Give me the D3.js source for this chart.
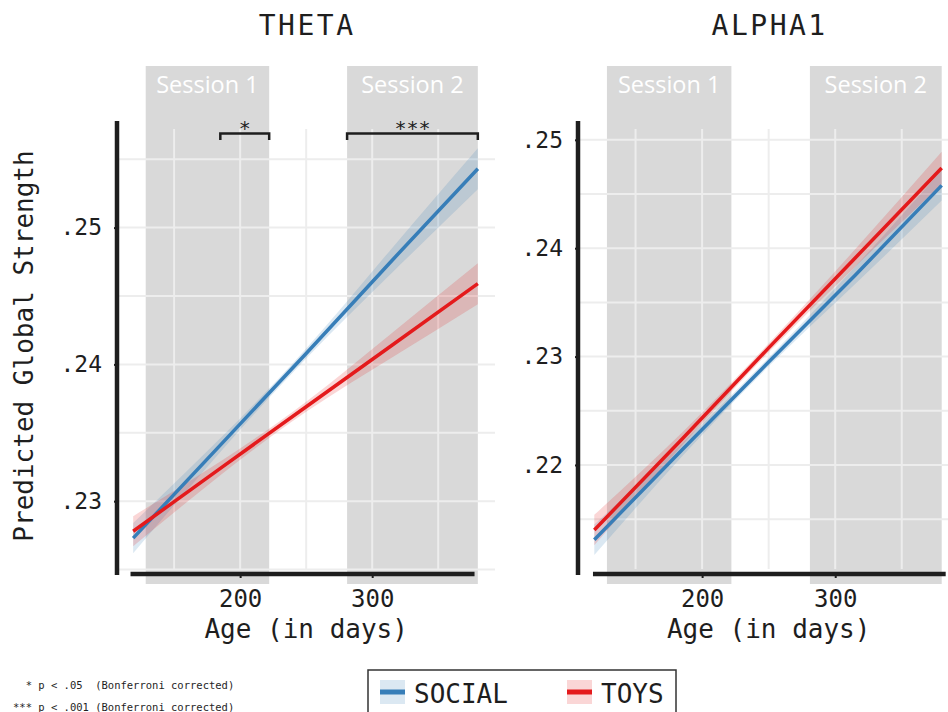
<!DOCTYPE html>
<html><head><meta charset="utf-8">
<script src="https://cdn.jsdelivr.net/npm/d3@7"></script>
<style>
html,body{margin:0;padding:0;background:#fff;}
svg{display:block;}
text{font-family:"DejaVu Sans Mono", monospace; fill:#1e1e1e;}
</style></head><body>
<svg id="chart" width="948" height="712"></svg>
<script>
// ---- data ----
const ageDays = [119, 185, 250, 315, 380];
const thetaSocial   = [0.2273, 0.2341, 0.2408, 0.2476, 0.2543];
const thetaSocialCI = [0.0011, 0.0005, 0.00037, 0.0009, 0.0015];
const thetaToys     = [0.2278, 0.2324, 0.2369, 0.2414, 0.2459];
const thetaToysCI   = [0.0011, 0.0005, 0.00037, 0.0009, 0.0015];
const alphaSocial   = [0.2131, 0.2214, 0.2295, 0.2375, 0.2458];
const alphaSocialCI = [0.0014, 0.0006, 0.0004, 0.0008, 0.0014];
const alphaToys     = [0.2140, 0.2224, 0.2308, 0.2391, 0.2474];
const alphaToysCI   = [0.0014, 0.0006, 0.0004, 0.0008, 0.0015];
const sessionLabels = ["Session 1", "Session 2"];
const sessionStart = [128.5, 281];
const sessionEnd = [222, 380];
const xTicks = [200, 300];
const xMinor = [150, 250, 350];
const xDomain = [106, 393];
const thetaXAxisSpan = [117, 377.5];
const alphaXAxisSpan = [118, 383];
const thetaYTicks = [0.23, 0.24, 0.25];
const thetaYMinor = [0.225, 0.235, 0.245, 0.255];
const thetaYDomain = [0.22504, 0.25721];
const alphaYTicks = [0.22, 0.23, 0.24, 0.25];
const alphaYMinor = [0.215, 0.225, 0.235, 0.245];
const alphaYDomain = [0.2104, 0.2510];
const sigStart = [185, 281];
const sigEnd = [222, 380];
const sigLabels = ["*", "***"];
const seriesNames = ["SOCIAL", "TOYS"];
const seriesColors = ["#377eb8", "#e41a1c"];
const footnotes = ["  * p < .05  (Bonferroni corrected)", "*** p < .001 (Bonferroni corrected)"];

// ---- layout ----
const svg = d3.select("#chart");
const panelTop = 129, panelBottom = 569;
const panels = [
  {title: "THETA", left: 116, right: 495, yDomain: thetaYDomain, yTicks: thetaYTicks, yMinor: thetaYMinor,
   axisSpan: thetaXAxisSpan, series: [[thetaSocial, thetaSocialCI], [thetaToys, thetaToysCI]], sig: true},
  {title: "ALPHA1", left: 577, right: 959, yDomain: alphaYDomain, yTicks: alphaYTicks, yMinor: alphaYMinor,
   axisSpan: alphaXAxisSpan, series: [[alphaSocial, alphaSocialCI], [alphaToys, alphaToysCI]], sig: false}
];
const fmt = v => d3.format(".2f")(v).replace(/^0/, "");

panels.forEach(p => {
  const x = d3.scaleLinear().domain(xDomain).range([p.left, p.right]);
  const y = d3.scaleLinear().domain(p.yDomain).range([panelBottom, panelTop]);
  const g = svg.append("g");

  // session bands
  sessionLabels.forEach((lab, i) => {
    g.append("rect").attr("x", x(sessionStart[i])).attr("y", 66)
      .attr("width", x(sessionEnd[i]) - x(sessionStart[i])).attr("height", 584 - 66)
      .attr("fill", "#d9d9d9");
    g.append("text").attr("x", (x(sessionStart[i]) + x(sessionEnd[i])) / 2).attr("y", 93)
      .attr("text-anchor", "middle").style("font-family", "'Open Sans', sans-serif")
      .style("font-size", "23.5px").style("fill", "#ffffff").text(lab);
  });

  // gridlines
  const grid = g.append("g").attr("stroke", "#ededed").attr("stroke-width", 2);
  xTicks.concat(xMinor).forEach(v => {
    grid.append("line").attr("x1", x(v)).attr("x2", x(v)).attr("y1", panelTop).attr("y2", panelBottom);
  });
  p.yTicks.concat(p.yMinor).forEach(v => {
    grid.append("line").attr("x1", p.left).attr("x2", p.right).attr("y1", y(v)).attr("y2", y(v));
  });

  // ribbons + lines
  p.series.forEach((s, si) => {
    const pts = ageDays.map((d, i) => ({x: d, v: s[0][i], ci: s[1][i]}));
    const area = d3.area().x(d => x(d.x)).y0(d => y(d.v - d.ci)).y1(d => y(d.v + d.ci)).curve(d3.curveNatural);
    g.append("path").attr("d", area(pts)).attr("fill", seriesColors[si]).attr("fill-opacity", 0.18);
  });
  p.series.forEach((s, si) => {
    const pts = ageDays.map((d, i) => ({x: d, v: s[0][i]}));
    const line = d3.line().x(d => x(d.x)).y(d => y(d.v));
    g.append("path").attr("d", line(pts)).attr("fill", "none")
      .attr("stroke", seriesColors[si]).attr("stroke-width", 3.5);
  });

  // y axis
  const ya = g.append("g").attr("transform", `translate(${p.left + 1},0)`)
    .call(d3.axisLeft(y).tickValues(p.yTicks).tickSize(3).tickPadding(12).tickFormat(fmt));
  ya.select(".domain").remove();
  ya.selectAll(".tick line").attr("stroke", "#1e1e1e").attr("stroke-width", 2);
  ya.selectAll(".tick text").style("font-size", "23px").style("font-family", "'DejaVu Sans Mono', monospace").attr("fill", "#1e1e1e");
  g.append("line").attr("x1", p.left + 1).attr("x2", p.left + 1).attr("y1", panelTop - 8).attr("y2", panelBottom + 6)
    .attr("stroke", "#1e1e1e").attr("stroke-width", 4.5);

  // x axis
  const xa = g.append("g").attr("transform", `translate(0,${panelBottom + 5})`)
    .call(d3.axisBottom(x).tickValues(xTicks).tickSize(4).tickPadding(12).tickFormat(d3.format("d")));
  xa.select(".domain").remove();
  xa.selectAll(".tick line").attr("stroke", "#1e1e1e").attr("stroke-width", 2);
  xa.selectAll(".tick text").style("font-size", "24px").style("font-family", "'DejaVu Sans Mono', monospace").attr("fill", "#1e1e1e");
  g.append("line").attr("x1", x(p.axisSpan[0])).attr("x2", x(p.axisSpan[1])).attr("y1", panelBottom + 5).attr("y2", panelBottom + 5)
    .attr("stroke", "#1e1e1e").attr("stroke-width", 4.5);

  // titles
  const cx = (x(xTicks[0]) + x(xTicks[1])) / 2;
  g.append("text").attr("x", cx).attr("y", 638).attr("text-anchor", "middle").style("font-size", "26px").text("Age (in days)");
  g.append("text").attr("x", cx + 1).attr("y", 35).attr("text-anchor", "middle").style("font-size", "28px")
    .style("letter-spacing", "2.5px").text(p.title);

  // significance brackets
  if (p.sig) {
    sigLabels.forEach((lab, i) => {
      const x0 = x(sigStart[i]), x1 = x(sigEnd[i]);
      g.append("path").attr("d", `M${x0},${panelTop + 11}V${panelTop + 4.5}H${x1}V${panelTop + 11}`)
        .attr("fill", "none").attr("stroke", "#1e1e1e").attr("stroke-width", 2.5);
      g.append("text").attr("x", (x0 + x1) / 2).attr("y", panelTop + 6).attr("text-anchor", "middle")
        .style("font-size", "20px").text(lab);
    });
  }
});

// y axis title
svg.append("text").attr("transform", "translate(33,346) rotate(-90)").attr("text-anchor", "middle")
  .style("font-size", "26px").text("Predicted Global Strength");

// legend
const lg = svg.append("g");
lg.append("rect").attr("x", 368).attr("y", 670).attr("width", 308).attr("height", 70)
  .attr("fill", "none").attr("stroke", "#333").attr("stroke-width", 1.5);
const keyX = [380, 567];
seriesNames.forEach((n, i) => {
  lg.append("rect").attr("x", keyX[i]).attr("y", 680).attr("width", 25).attr("height", 24)
    .attr("fill", seriesColors[i]).attr("fill-opacity", 0.18);
  lg.append("line").attr("x1", keyX[i]).attr("x2", keyX[i] + 25).attr("y1", 692).attr("y2", 692)
    .attr("stroke", seriesColors[i]).attr("stroke-width", 5);
  lg.append("text").attr("x", keyX[i] + 34).attr("y", 703).style("font-size", "26px").text(n);
});

// footnotes
footnotes.forEach((f, i) => {
  svg.append("text").attr("x", 13).attr("y", 689 + i * 22).style("font-size", "10.5px")
    .style("white-space", "pre").text(f);
});
</script>
</body></html>
